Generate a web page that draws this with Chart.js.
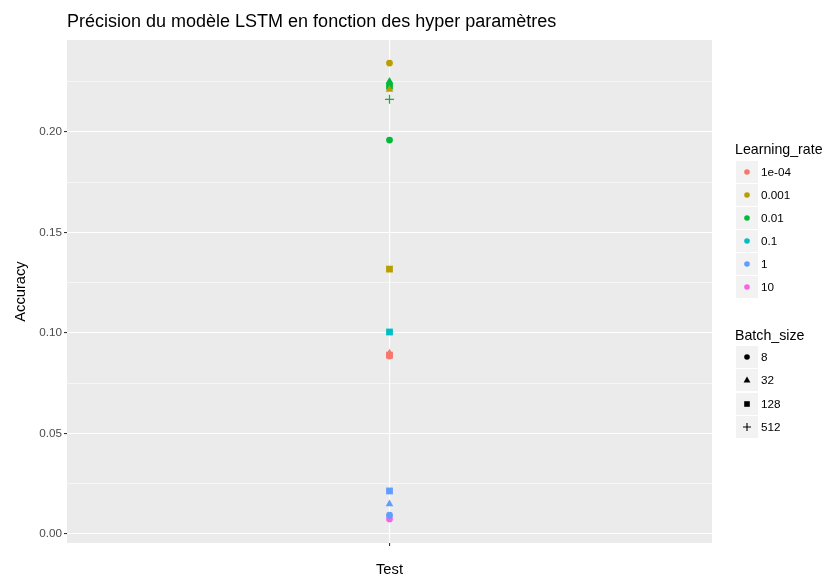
<!DOCTYPE html>
<html>
<head>
<meta charset="utf-8">
<script src="https://cdn.jsdelivr.net/npm/chart.js@4/dist/chart.umd.min.js"></script>
<style>
  html, body { margin: 0; padding: 0; background: #fff; }
  #wrap { position: relative; width: 825px; height: 574px; overflow: hidden; font-family: "Liberation Sans", Arial, sans-serif; }
  canvas { position: absolute; left: 0; top: 0; }
  .lg { position: absolute; left: 0; top: 0; }
  .lgt { position: absolute; font-size: 14.2px; color: #000; white-space: nowrap; }
  .key { position: absolute; width: 22px; height: 22px; background: #F2F2F2; }
  .key svg { position: absolute; left: 0; top: 0; }
  .lbl { position: absolute; font-size: 11.7px; color: #000; white-space: nowrap; line-height: 14px; }
</style>
</head>
<body>
<div id="wrap">
  <canvas id="c" width="825" height="574"></canvas>
  <div id="legend" class="lg"></div>
</div>
<script>
// ---- data ----
const learningRates = ['1e-04', '0.001', '0.01', '0.1', '1', '10'];
const lrColors = ['#F8766D', '#B79F00', '#00BA38', '#00BFC4', '#619CFF', '#F564E3'];
const batchSizes = ['8', '32', '128', '512'];
const batchShapes = ['circle', 'triangle', 'rect', 'cross'];
const category = 'Test';
// accuracy by learning rate (index matches learningRates); null = not visible
const accuracy_8   = [0.0885, 0.2343, 0.1960, null,   0.0093, 0.0075];
const accuracy_32  = [0.0900, 0.2212, 0.2252, null,   0.0149, null];
const accuracy_128 = [0.0890, 0.1318, 0.2228, 0.1005, 0.0214, null];
const accuracy_512 = [null,   null,   0.2163, null,   null,   null];
const yTicks = [0, 0.05, 0.10, 0.15, 0.20];

const byBatch = [accuracy_8, accuracy_32, accuracy_128, accuracy_512];
const shapeRadius = { circle: 3.4, triangle: 4.4, rect: 4.8, cross: 4.5 };

const datasets = [];
learningRates.forEach((lr, i) => {
  batchSizes.forEach((bs, j) => {
    const v = byBatch[j][i];
    if (v === null) return;
    const shape = batchShapes[j];
    datasets.push({
      label: lr + ' / ' + bs,
      data: [{ x: 1, y: v }],
      pointStyle: shape,
      backgroundColor: lrColors[i],
      borderColor: lrColors[i],
      borderWidth: shape === 'cross' ? 1.2 : 0,
      pointRadius: shapeRadius[shape],
      pointHoverRadius: shapeRadius[shape]
    });
  });
});

const panelBg = {
  id: 'panelBg',
  beforeDraw(chart) {
    const { ctx, chartArea: a } = chart;
    ctx.save();
    ctx.fillStyle = '#EBEBEB';
    ctx.fillRect(a.left, a.top, a.right - a.left, a.bottom - a.top);
    ctx.restore();
  },
  afterDraw(chart) {
    const { ctx, chartArea: a } = chart;
    ctx.save();
    ctx.fillStyle = '#000';
    ctx.font = '18px "Liberation Sans", Arial, sans-serif';
    ctx.textBaseline = 'alphabetic';
    ctx.fillText('Précision du modèle LSTM en fonction des hyper paramètres', a.left, 27);
    ctx.restore();
  }
};

const isMajor = v => Math.abs(Math.round(v / 0.05) * 0.05 - v) < 1e-9;

new Chart(document.getElementById('c'), {
  type: 'scatter',
  data: { datasets },
  options: {
    responsive: false,
    animation: false,
    devicePixelRatio: 1,
    layout: { padding: { left: 8, right: 113, top: 40, bottom: 0 } },
    plugins: { legend: { display: false }, tooltip: { enabled: false }, title: { display: false } },
    scales: {
      x: {
        type: 'linear',
        min: 0.4, max: 1.6,
        afterBuildTicks: s => { s.ticks = [{ value: 1 }]; },
        afterFit: s => { s.height = 31; },
        border: { display: false },
        grid: { color: '#FFFFFF', lineWidth: 1.1, tickLength: 3, tickColor: '#333333', drawTicks: true },
        ticks: { callback: () => '', padding: 0, font: { size: 11.7, family: '"Liberation Sans", Arial, sans-serif' } },
        title: { display: true, text: category, color: '#000', padding: { top: 0, bottom: -5 },
                 font: { size: 14.7, family: '"Liberation Sans", Arial, sans-serif' } }
      },
      y: {
        type: 'linear',
        min: -0.0045, max: 0.2458,
        afterBuildTicks: s => {
          const t = [];
          for (let k = 0; k <= 9; k++) t.push({ value: +(k * 0.025).toFixed(3) });
          s.ticks = t;
        },
        afterFit: s => { s.width = 59; },
        border: { display: false },
        grid: {
          color: '#FFFFFF',
          lineWidth: c => (c.tick && isMajor(c.tick.value)) ? 1.1 : 0.55,
          tickLength: 3,
          tickColor: c => (c.tick && isMajor(c.tick.value)) ? '#333333' : 'rgba(0,0,0,0)'
        },
        ticks: {
          color: '#4D4D4D',
          padding: 2,
          autoSkip: false,
          font: { size: 11.7, family: '"Liberation Sans", Arial, sans-serif' },
          callback: v => isMajor(v) ? v.toFixed(2) : ''
        },
        title: { display: true, text: 'Accuracy', color: '#000', padding: { top: 4, bottom: 0 },
                 font: { size: 14.7, family: '"Liberation Sans", Arial, sans-serif' } }
      }
    }
  },
  plugins: [panelBg]
});

// ---- legend (HTML) ----
function shapeSvg(shape, color) {
  const c = 11;
  let s = '';
  if (shape === 'circle') s = `<circle cx="${c}" cy="${c}" r="2.8" fill="${color}"/>`;
  else if (shape === 'triangle') s = `<polygon points="${c},${c-3.6} ${c+3.4},${c+2.4} ${c-3.4},${c+2.4}" fill="${color}"/>`;
  else if (shape === 'rect') s = `<rect x="${c-2.8}" y="${c-2.8}" width="5.6" height="5.6" fill="${color}"/>`;
  else s = `<path d="M${c-4} ${c}H${c+4}M${c} ${c-4}V${c+4}" stroke="${color}" stroke-width="1.1"/>`;
  return `<svg width="22" height="22">${s}</svg>`;
}
const lg = document.getElementById('legend');
let html = '';
html += `<div class="lgt" style="left:735px;top:141px;">Learning_rate</div>`;
learningRates.forEach((lr, i) => {
  const cy = 172 + i * 23;
  html += `<div class="key" style="left:736px;top:${cy - 11}px;">${shapeSvg('circle', lrColors[i])}</div>`;
  html += `<div class="lbl" style="left:761px;top:${cy - 7}px;">${lr}</div>`;
});
html += `<div class="lgt" style="left:735px;top:327px;">Batch_size</div>`;
batchSizes.forEach((bs, j) => {
  const cy = 357 + j * 23.3;
  html += `<div class="key" style="left:736px;top:${cy - 11}px;">${shapeSvg(batchShapes[j], '#000')}</div>`;
  html += `<div class="lbl" style="left:761px;top:${cy - 7}px;">${bs}</div>`;
});
lg.innerHTML = html;
</script>
</body>
</html>
